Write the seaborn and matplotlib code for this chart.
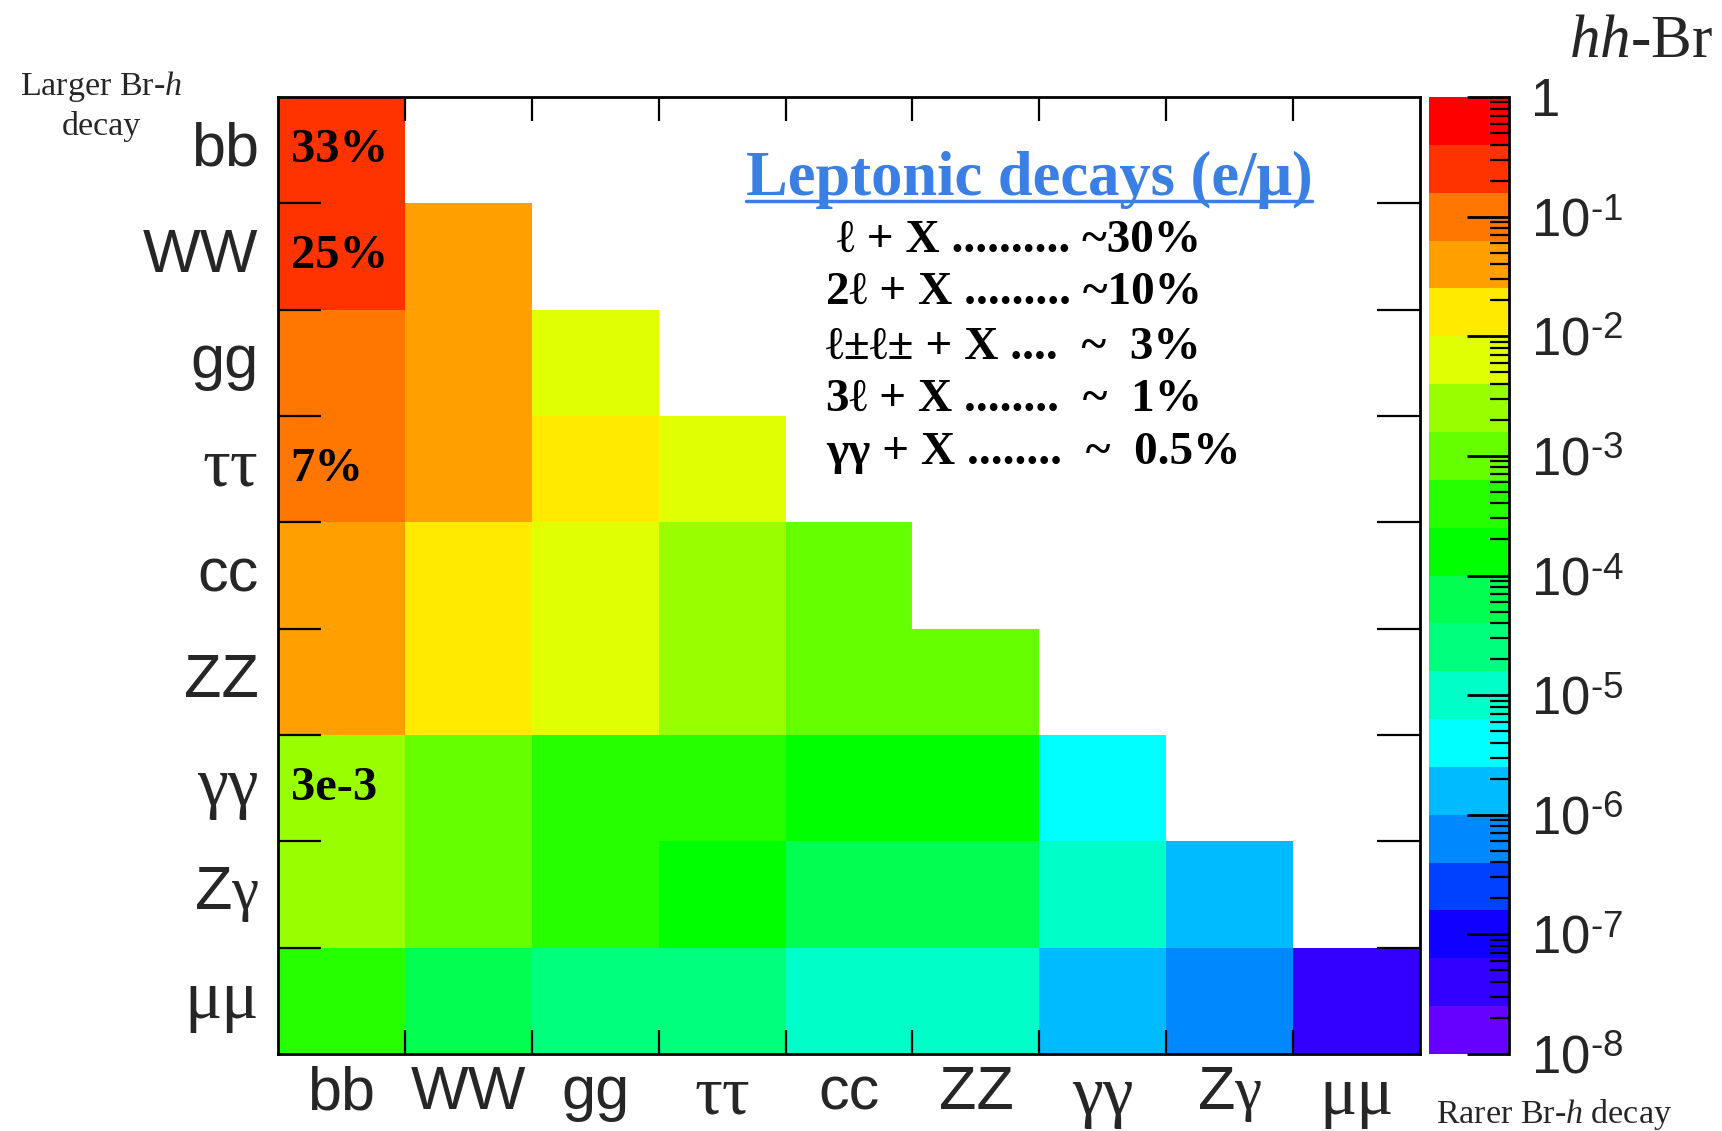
import numpy as np
import pandas as pd
import matplotlib
matplotlib.use("Agg")
import matplotlib.pyplot as plt
import seaborn as sns
from matplotlib.colors import ListedColormap, LogNorm
from matplotlib.ticker import LogLocator, FixedLocator
from matplotlib.lines import Line2D

# ---------------- data ----------------
decays = ["bb", "WW", "gg", "ττ", "cc", "ZZ", "γγ", "Zγ", "μμ"]

# hh branching ratio: row = larger-Br h decay, column = rarer-Br h decay (lower triangle)
hh_bb = [0.33]
hh_WW = [0.25, 0.046]
hh_gg = [0.095, 0.035, 0.0067]
hh_tautau = [0.073, 0.027, 0.011, 0.0045]
hh_cc = [0.034, 0.0125, 0.0048, 0.0037, 0.00084]
hh_ZZ = [0.030, 0.0112, 0.0043, 0.0033, 0.0015, 0.00068]
hh_gamgam = [0.0027, 0.00099, 0.00038, 0.00029, 0.00013, 0.00012, 5.3e-6]
hh_Zgam = [0.0017, 0.0007, 0.00026, 0.00019, 8.7e-5, 7.8e-5, 7.0e-6, 2.25e-6]
hh_mumu = [0.00026, 9.5e-5, 3.6e-5, 2.8e-5, 1.3e-5, 1.1e-5, 1.05e-6, 6.6e-7, 4.8e-8]

cell_labels = {"bb": "33%", "WW": "25%", "ττ": "7%", "γγ": "3e-3"}  # written in first column

lepton_lines = [
    "ℓ + X .......... ~30%",
    "2ℓ + X ......... ~10%",
    "ℓ±ℓ± + X ....  ~  3%",
    "3ℓ + X ........  ~  1%",
    "γγ + X ........  ~  0.5%",
]

cbar_ticks = [1e-8, 1e-7, 1e-6, 1e-5, 1e-4, 1e-3, 1e-2, 1e-1, 1]
cbar_ticklabels = [r"$10^{\text{-8}}$", r"$10^{\text{-7}}$", r"$10^{\text{-6}}$",
                   r"$10^{\text{-5}}$", r"$10^{\text{-4}}$", r"$10^{\text{-3}}$",
                   r"$10^{\text{-2}}$", r"$10^{\text{-1}}$", "1"]

palette = ["#6600FF", "#3300FF", "#1000FF", "#0040FF", "#0088FF",
           "#00BBFF", "#00FFFF", "#00FFC8", "#00FF7A", "#00FF50",
           "#00FF00", "#26FF00", "#66FF00", "#99FF00", "#E0FF00",
           "#FFEA00", "#FFA000", "#FF7700", "#FF3300", "#FF0000"]

# ---------------- table ----------------
rows = [hh_bb, hh_WW, hh_gg, hh_tautau, hh_cc, hh_ZZ, hh_gamgam, hh_Zgam, hh_mumu]
n = len(decays)
mat = np.array([r + [np.nan] * (n - len(r)) for r in rows], dtype=float)
df = pd.DataFrame(mat, index=decays, columns=decays)

# ---------------- style ----------------
sns.set_theme(style="white")
plt.rcParams["font.family"] = ["Liberation Sans", "DejaVu Sans"]
plt.rcParams["axes.axisbelow"] = False
plt.rcParams["axes.unicode_minus"] = False
plt.rcParams["mathtext.fontset"] = "custom"
plt.rcParams["mathtext.rm"] = "Liberation Sans"
plt.rcParams["mathtext.it"] = "Liberation Serif:italic"
plt.rcParams["mathtext.sf"] = "Liberation Serif"
plt.rcParams["mathtext.bf"] = "Liberation Sans:bold"

W, H = 1722, 1131
fig = plt.figure(figsize=(W / 100, H / 100), dpi=100)
ax = fig.add_axes([278 / W, 1 - 1054 / H, (1420 - 278) / W, (1054 - 97) / H])
cax = fig.add_axes([1429 / W, 1 - 1054 / H, 80 / W, (1054 - 97) / H])

cmap = ListedColormap(palette)
norm = LogNorm(vmin=1e-8, vmax=1)
sns.heatmap(df, ax=ax, cmap=cmap, norm=norm, cbar=True, cbar_ax=cax,
            linewidths=0)
ax.set_axisbelow(False)
cax.set_axisbelow(False)

# ---------------- main axes ticks ----------------
serif = ["Liberation Serif", "DejaVu Serif"]
sans = ["Liberation Sans", "DejaVu Sans"]
greek = {"ττ", "γγ", "μμ"}

def disp(lbl):
    if lbl == "Zγ":
        return r"Z$\mathsf{γ}$"
    return lbl

centers = np.arange(n) + 0.5
ax.set_xticks(centers)
ax.set_xticklabels([disp(d) for d in decays], rotation=0)
ax.set_yticks(centers)
ax.set_yticklabels([disp(d) for d in decays], rotation=0)
for lab, d in zip(ax.get_xticklabels(), decays):
    lab.set_fontsize(50 if d in greek else 44)
    lab.set_family(serif if d in greek else sans)
for lab, d in zip(ax.get_yticklabels(), decays):
    lab.set_fontsize(50 if d in greek else 44)
    lab.set_family(serif if d in greek else sans)

ax.tick_params(axis="both", which="major", length=0)
ax.tick_params(axis="x", which="major", pad=8)
ax.tick_params(axis="y", which="major", pad=14)
ax.xaxis.set_minor_locator(FixedLocator(np.arange(1, n)))
ax.yaxis.set_minor_locator(FixedLocator(np.arange(1, n)))
ax.tick_params(axis="x", which="minor", direction="in", length=17, width=1.6,
               top=True, bottom=True, color="black")
ax.tick_params(axis="y", which="minor", direction="in", length=31, width=1.6,
               left=True, right=True, color="black")
ax.set_xlabel("")
ax.set_ylabel("")
for s in ax.spines.values():
    s.set_visible(True)
    s.set_color("black")
    s.set_linewidth(2)
    s.set_zorder(5)

# cell annotations
for i, d in enumerate(decays):
    if d in cell_labels:
        ax.text(0.1, i + 0.5, cell_labels[d], ha="left", va="center",
                fontsize=35, fontweight="bold", family=serif, color="black")

# ---------------- colorbar ----------------
cb = ax.collections[0].colorbar
cb.outline.set_visible(False)
cax.spines["right"].set_visible(True)
cax.spines["right"].set_color("black")
cax.spines["right"].set_linewidth(2)
cax.yaxis.set_ticks_position("right")
cb.set_ticks(cbar_ticks)
cb.set_ticklabels(cbar_ticklabels)
cax.yaxis.set_minor_locator(LogLocator(base=10, subs=np.arange(2, 10), numticks=200))
cax.tick_params(axis="y", which="major", direction="in", length=30, width=2,
                right=True, left=False, pad=16, labelsize=38, color="black")
cax.tick_params(axis="y", which="minor", direction="in", length=14, width=1.6,
                right=True, left=False, color="black")

# ---------------- texts ----------------
fig.text(1713 / W, 1 - 57 / H, r"$\mathit{hh}$-Br", ha="right", va="baseline",
         fontsize=44, family=serif)
fig.text(101 / W, 1 - 86 / H, r"Larger Br-$\mathit{h}$", ha="center", va="center",
         fontsize=24.5, family=serif)
fig.text(101 / W, 1 - 127 / H, "decay", ha="center", va="center",
         fontsize=24.5, family=serif)
fig.text(1554 / W, 1 - 1115 / H, r"Rarer Br-$\mathit{h}$ decay", ha="center",
         va="center", fontsize=24.5, family=serif)

title = fig.text(1029 / W, 1 - 195 / H, "Leptonic decays (e/μ)", ha="center",
                 va="baseline", fontsize=45, fontweight="bold", family=serif,
                 color="#3A7FE3")
line_x = [837, 826, 826, 826, 826]
line_y = [241, 293, 348, 400, 453]
for txt, lx, ly in zip(lepton_lines, line_x, line_y):
    fig.text(lx / W, 1 - ly / H, txt, ha="left", va="center", fontsize=34,
             fontweight="bold", family=serif, color="black")

# underline of the title
renderer = fig.canvas.get_renderer()
bb = title.get_window_extent(renderer=renderer)
uy = (H - 201) / H
fig.add_artist(Line2D([bb.x0 / W, bb.x1 / W], [uy, uy], transform=fig.transFigure,
                      color="#3A7FE3", linewidth=2.5))

fig.savefig("out.png", dpi=100)
